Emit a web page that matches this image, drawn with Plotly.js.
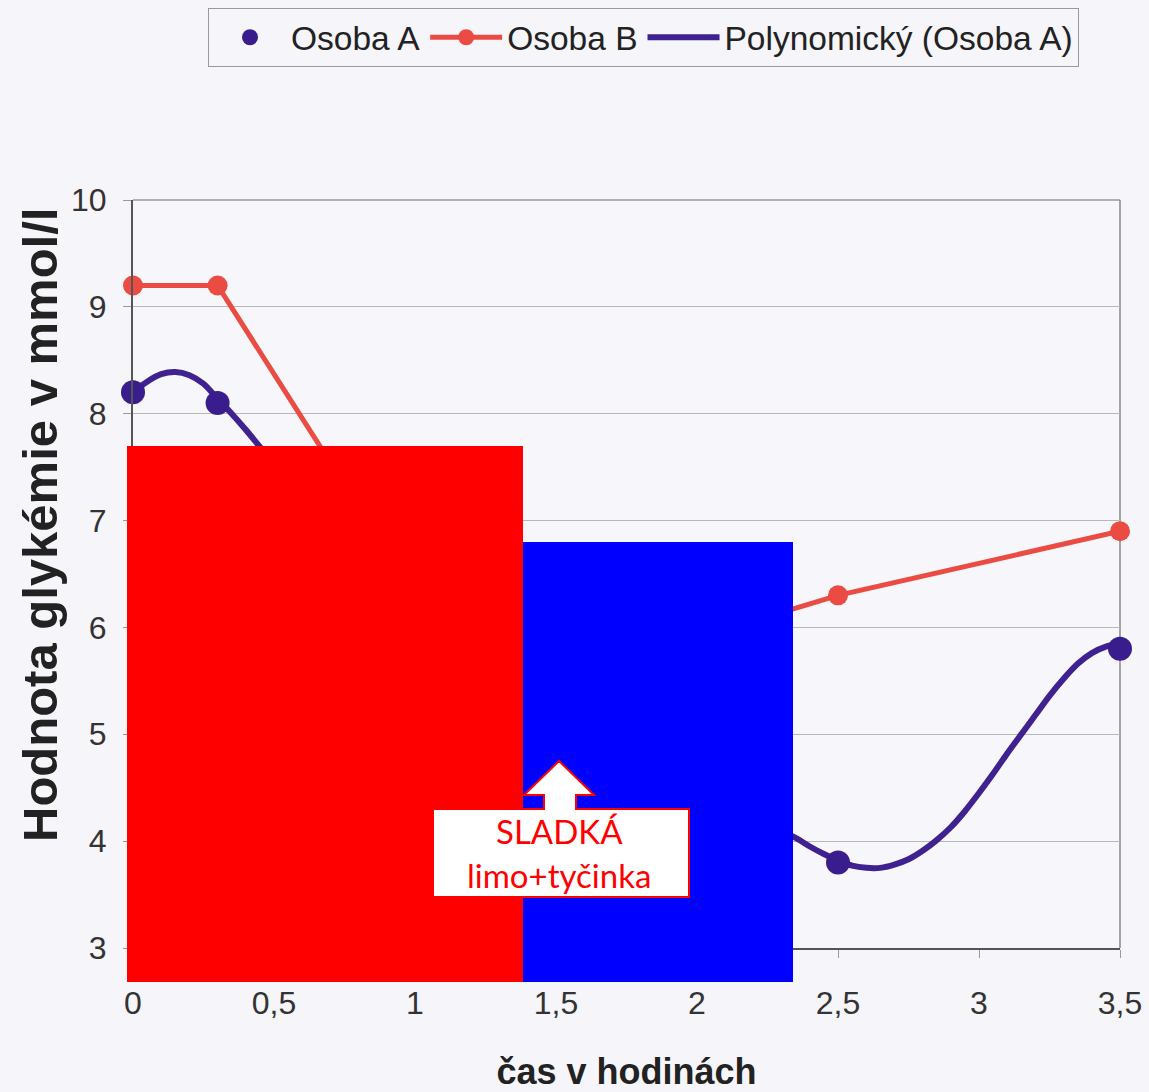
<!DOCTYPE html>
<html>
<head>
<meta charset="utf-8">
<script src="https://cdn.plot.ly/plotly-3.0.1.min.js"></script>
<style>html,body{margin:0;padding:0;background:#f6f5fa;}#chart{width:1149px;height:1092px;}</style>
</head>
<body>
<div id="chart"></div>
<script>
// Osoba A measured points (hidden ones estimated)
const timeA = [0, 0.3, 1.0, 1.5, 2.0, 2.5, 3.5];
const valuesA = [8.2, 8.1, 6.1, 4.9, 4.4, 3.8, 5.8];
// Osoba B
const timeB = [0, 0.3, 1.0, 1.5, 2.0, 2.5, 3.5];
const valuesB = [9.2, 9.2, 6.3, 6.0, 5.9, 6.3, 6.9];
// Polynomial trendline of Osoba A
const trendX = [0, 0.05, 0.1, 0.15, 0.2, 0.25, 0.3, 0.35, 0.4, 0.45, 0.5, 0.6, 0.7, 0.8, 0.9, 1.0, 1.1, 1.2, 1.3, 1.4, 1.5, 1.6, 1.7, 1.8, 1.9, 2.0, 2.1, 2.2, 2.3, 2.35, 2.4, 2.45, 2.5, 2.55, 2.6, 2.65, 2.7, 2.75, 2.8, 2.85, 2.9, 2.95, 3.0, 3.05, 3.1, 3.15, 3.2, 3.25, 3.3, 3.35, 3.4, 3.45, 3.5];
const trendY = [8.2, 8.3, 8.37, 8.39, 8.36, 8.28, 8.14, 8.0, 7.85, 7.69, 7.53, 7.21, 6.9, 6.6, 6.31, 6.03, 5.77, 5.52, 5.29, 5.08, 4.89, 4.73, 4.6, 4.49, 4.4, 4.32, 4.25, 4.18, 4.09, 4.03, 3.95, 3.88, 3.82, 3.77, 3.75, 3.75, 3.78, 3.83, 3.91, 4.01, 4.13, 4.28, 4.45, 4.63, 4.82, 5.0, 5.18, 5.36, 5.52, 5.66, 5.76, 5.82, 5.85];
// Axis ticks
const xTickVals = [0, 0.5, 1, 1.5, 2, 2.5, 3, 3.5];
const xTickText = ['0', '0,5', '1', '1,5', '2', '2,5', '3', '3,5'];
const yTickVals = [3, 4, 5, 6, 7, 8, 9, 10];
const yTickText = ['3', '4', '5', '6', '7', '8', '9', '10'];
const seriesNames = ['Osoba A', 'Osoba B', 'Polynomický (Osoba A)'];
const xTitle = 'čas v hodinách';
const yTitle = 'Hodnota glykémie v mmol/l';
const noteLines = ['SLADKÁ', 'limo+tyčinka'];

const purple = '#3a1d8c';
const coral = '#ea4b42';
const font = 'Liberation Sans, Arial, sans-serif';

const traces = [
  {x: trendX, y: trendY, name: seriesNames[2], type: 'scatter', mode: 'lines',
   line: {color: '#3f2290', width: 6, shape: 'spline', smoothing: 0.8}, legendrank: 3, cliponaxis: false, hoverinfo: 'skip'},
  {x: timeA, y: valuesA, name: seriesNames[0], type: 'scatter', mode: 'markers',
   marker: {color: purple, size: 24}, legendrank: 1, cliponaxis: false},
  {x: timeB, y: valuesB, name: seriesNames[1], type: 'scatter', mode: 'lines+markers',
   line: {color: coral, width: 5}, marker: {color: coral, size: 20}, legendrank: 2, cliponaxis: false}
];

function px(x){ return (x - 133) / 987; }
function py(y){ return (948 - y) / 748; }

const arrowPath = 'M ' + [
  [px(433), py(897)], [px(433), py(809)], [px(544), py(809)], [px(544), py(795)],
  [px(524), py(795)], [px(559), py(761)], [px(594), py(795)], [px(576), py(795)],
  [px(576), py(809)], [px(689), py(809)], [px(689), py(897)]
].map(p => p[0].toFixed(5) + ',' + p[1].toFixed(5)).join(' L ') + ' Z';

const layout = {
  width: 1149, height: 1092,
  paper_bgcolor: '#f6f5fa', plot_bgcolor: '#f7f6fb',
  margin: {l: 133, r: 29, t: 200, b: 144},
  showlegend: true,
  legend: {
    orientation: 'h', xref: 'container', yref: 'container',
    x: 208 / 1149, y: 1 - 8 / 1092, xanchor: 'left', yanchor: 'top',
    bgcolor: '#f6f5fa', bordercolor: '#9a9a9a', borderwidth: 1,
    font: {family: font, size: 33.5, color: '#222'}, itemwidth: 72,
    traceorder: 'normal'
  },
  xaxis: {
    range: [0, 3.5], tickvals: xTickVals, ticktext: xTickText,
    showgrid: false, zeroline: false, showline: true, linecolor: '#555', linewidth: 2,
    ticks: 'outside', ticklen: 8, tickcolor: '#999', tickwidth: 1,
    ticklabelstandoff: 18,
    tickfont: {family: font, size: 32, color: '#333'},
    title: {text: xTitle, font: {family: font, size: 36, color: '#222', weight: 'bold'}, standoff: 40}
  },
  yaxis: {
    range: [3, 10], tickvals: yTickVals, ticktext: yTickText,
    showgrid: true, gridcolor: '#b8b8b8', gridwidth: 1, zeroline: false,
    showline: true, linecolor: '#555', linewidth: 2,
    ticks: 'outside', ticklen: 8, tickcolor: '#999', tickwidth: 1,
    ticklabelstandoff: 10,
    tickfont: {family: font, size: 32, color: '#333'}
  },
  shapes: [
    {type: 'line', xref: 'paper', yref: 'paper', x0: 0, x1: 1, y0: 1, y1: 1, line: {color: '#999', width: 1.5}, layer: 'below'},
    {type: 'line', xref: 'paper', yref: 'paper', x0: 1, x1: 1, y0: 0, y1: 1, line: {color: '#888', width: 1.5}, layer: 'below'},
    {type: 'rect', xref: 'paper', yref: 'paper', x0: px(127), x1: px(523), y0: py(982), y1: py(446),
     fillcolor: '#ff0000', line: {width: 0}, layer: 'above'},
    {type: 'rect', xref: 'paper', yref: 'paper', x0: px(523), x1: px(793), y0: py(982), y1: py(542),
     fillcolor: '#0000ff', line: {width: 0}, layer: 'above'},
    {type: 'path', xref: 'paper', yref: 'paper', path: arrowPath,
     fillcolor: '#ffffff', line: {color: '#ff0000', width: 2}, layer: 'above'}
  ],
  annotations: [
    {xref: 'paper', yref: 'paper', x: px(40), y: py(525), xanchor: 'center', yanchor: 'middle', textangle: -90,
     text: yTitle, showarrow: false, font: {family: font, size: 49, color: '#222', weight: 'bold'}},
    {xref: 'paper', yref: 'paper', x: px(559), y: py(831), xanchor: 'center', yanchor: 'middle', text: noteLines[0], showarrow: false,
     font: {family: 'Lato, Open Sans, sans-serif', size: 33, color: '#ff0000'}},
    {xref: 'paper', yref: 'paper', x: px(559), y: py(875), xanchor: 'center', yanchor: 'middle', text: noteLines[1], showarrow: false,
     font: {family: 'Lato, Open Sans, sans-serif', size: 33, color: '#ff0000'}}
  ]
};

Plotly.newPlot('chart', traces, layout, {displayModeBar: false, staticPlot: true});
</script>
</body>
</html>
